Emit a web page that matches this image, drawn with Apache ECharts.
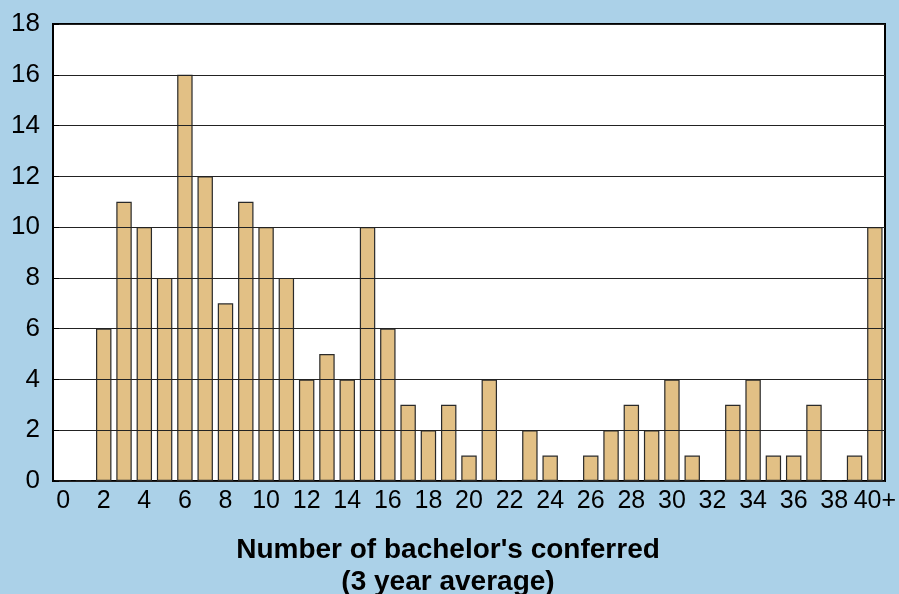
<!DOCTYPE html>
<html>
<head>
<meta charset="utf-8">
<script src="https://cdn.jsdelivr.net/npm/echarts@6/dist/echarts.min.js"></script>
<style>
  html, body {margin: 0; padding: 0; background: #abd1e8;}
  #chart {width: 899px; height: 594px;}
</style>
</head>
<body>
<div id="chart"></div>
<script>
  // categories 0..39 and 40+
  var categories = ['0', '1', '2', '3', '4', '5', '6', '7', '8', '9', '10', '11', '12', '13', '14', '15', '16', '17', '18', '19',
    '20', '21', '22', '23', '24', '25', '26', '27', '28', '29', '30', '31', '32', '33', '34', '35', '36', '37', '38', '39', '40+']
  var counts = [0, 0, 6, 11, 10, 8, 16, 12, 7, 11, 10, 8, 4, 5, 4, 10, 6, 3, 2, 3,
    1, 4, 0, 2, 1, 0, 1, 2, 3, 2, 4, 1, 0, 3, 4, 1, 1, 3, 0, 1, 10]

  var myChart = echarts.init(document.getElementById('chart'))
  myChart.setOption({
    backgroundColor: '#abd1e8',
    textStyle: {fontFamily: 'Liberation Sans'},
    grid: {
      left: 53,
      right: 14,
      top: 24,
      bottom: 113,
      outerBoundsMode: 'none',
      show: true,
      backgroundColor: '#fff',
      borderColor: '#000',
      borderWidth: 2
    },
    xAxis: {
      type: 'category',
      data: categories,
      name: "Number of bachelor's conferred\n(3 year average)",
      nameLocation: 'middle',
      nameGap: 53,
      nameTextStyle: {fontSize: 28, fontWeight: 'bold', color: '#000', lineHeight: 32, padding: [0, 42, 0, 0]},
      axisLine: {lineStyle: {color: '#000', width: 2}},
      axisTick: {show: false},
      axisLabel: {interval: 1, fontSize: 25, color: '#000', margin: 8}
    },
    yAxis: {
      type: 'value',
      min: 0,
      max: 18,
      interval: 2,
      z: 3,
      axisLine: {show: false},
      axisTick: {show: true, inside: true, length: 6, lineStyle: {color: '#000'}},
      axisLabel: {fontSize: 26, color: '#000', margin: 13},
      splitLine: {lineStyle: {color: '#222', width: 1}}
    },
    series: [{
      type: 'bar',
      data: counts,
      z: 2,
      barCategoryGap: '24%',
      itemStyle: {color: '#e2c085', borderColor: '#2a2a2a', borderWidth: 1.2}
    }]
  })
</script>
</body>
</html>
